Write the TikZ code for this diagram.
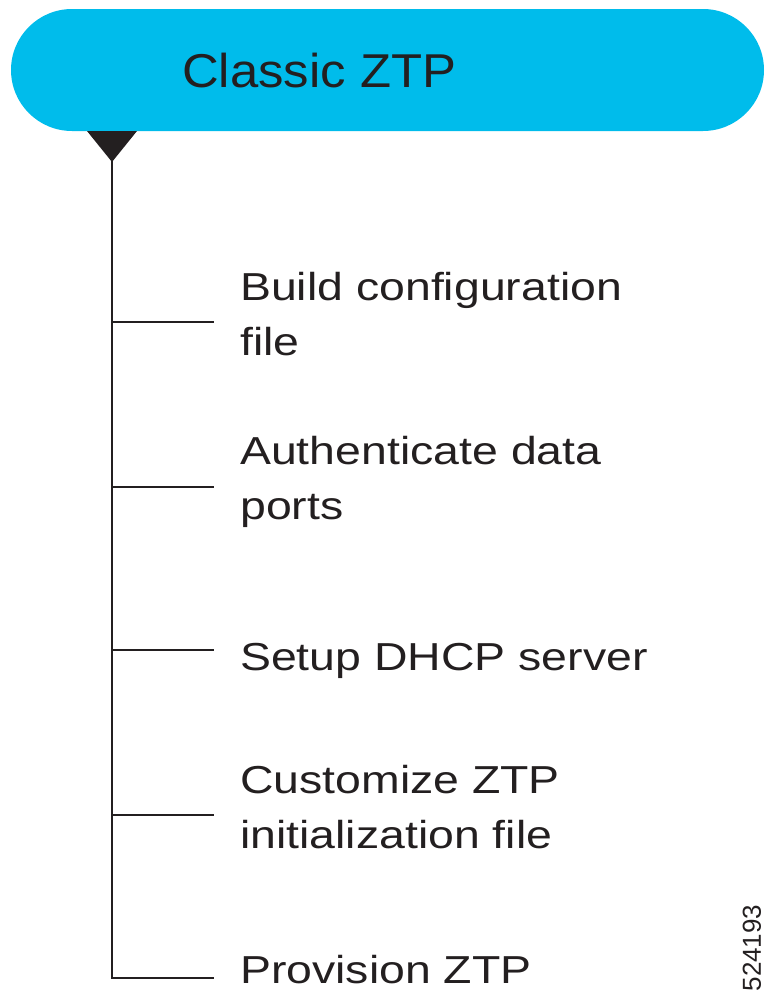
\documentclass[tikz,border=0pt]{standalone}
\usepackage{fontspec}
\newfontfamily\bodyfont{Liberation Sans}[FakeStretch=1.19]
\newfontfamily\titlefont{Liberation Sans}[FakeStretch=1.07]
\newfontfamily\numfont{Liberation Sans}
\definecolor{ztpcyan}{HTML}{00BCEB}
\definecolor{ink}{HTML}{231F20}
\begin{document}
\begin{tikzpicture}[x=1pt,y=-1pt,
  pill/.style={fill=ztpcyan, draw=none, rounded corners=61pt, minimum width=753pt, minimum height=122pt, inner sep=0pt},
  title/.style={font=\titlefont\fontsize{47.5}{55}\selectfont, text=ink, inner sep=0pt, anchor=base west},
  item/.style={font=\bodyfont\fontsize{39}{55}\selectfont, text=ink, inner sep=0pt, anchor=base west, align=left},
  spine/.style={draw=ink, line width=2pt},
  branch/.style={draw=ink, line width=2pt},
  marker/.style={fill=ink, draw=none}]
\useasboundingbox (0,0) rectangle (766,997);
% header pill
\node[pill] (hdr) at (387.5,70) {};
\node[title] (ttl) at (182,87) {Classic ZTP};
% triangle marker
\coordinate (tl) at (87,131);
\coordinate (tr) at (137,131);
\coordinate (apex) at (112,162);
\fill[marker] (tl) -- (tr) -- (apex) -- cycle;
% items (anchor = baseline of the last line)
\node[item] (i1) at (240,355) {Build configuration\\file};
\node[item] (i2) at (240,519) {Authenticate data\\ports};
\node[item] (i3) at (240,670) {Setup DHCP server};
\node[item] (i4) at (240,848) {Customize ZTP\\initialization file};
\node[item] (i5) at (240,983) {Provision ZTP};
% junctions on spine and branch ends
\coordinate (j1) at (112,322); \coordinate (e1) at (214,322);
\coordinate (j2) at (112,487); \coordinate (e2) at (214,487);
\coordinate (j3) at (112,650); \coordinate (e3) at (214,650);
\coordinate (j4) at (112,815); \coordinate (e4) at (214,815);
\coordinate (j5) at (112,978); \coordinate (e5) at (214,978);
\draw[spine, line cap=rect] (apex) -- (j5);
\foreach \k in {1,...,5} \draw[branch] (j\k) -- (e\k);
% figure number
\node[font=\numfont\fontsize{26}{30}\selectfont, text=ink, rotate=90, inner sep=0pt] (num) at (752,948) {524193};
\end{tikzpicture}
\end{document}
